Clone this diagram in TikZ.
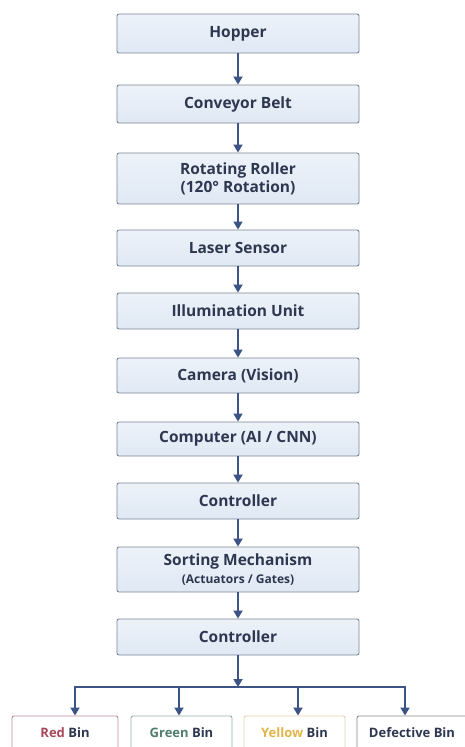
\documentclass[tikz,border=0pt]{standalone}
\usepackage{fontspec}
\setmainfont{Open Sans}
\usetikzlibrary{arrows.meta}
\definecolor{boxfill}{HTML}{DFE8F4}
\definecolor{boxdraw}{HTML}{7C8796}
\definecolor{txt}{HTML}{2D3850}
\definecolor{arr}{HTML}{3B5485}
\definecolor{redc}{HTML}{A8465A}
\definecolor{redb}{HTML}{B89098}
\definecolor{greenc}{HTML}{4F7D6E}
\definecolor{greenb}{HTML}{98B0A8}
\definecolor{yellc}{HTML}{E2B54A}
\definecolor{yellb}{HTML}{E2D2B0}
\definecolor{defb}{HTML}{8A8A8A}
\tikzset{
  stage/.style={draw=boxdraw, line width=0.9pt, rounded corners=2pt,
    top color=boxfill!55!white, bottom color=boxfill, minimum width=242pt,
    inner sep=0pt, align=center, text=txt, font=\bfseries\fontsize{15.5}{18}\selectfont},
  bin/.style={draw=#1, line width=0.9pt, rounded corners=2pt, fill=white,
    minimum width=106pt, minimum height=34pt, inner sep=0pt, text=txt,
    font=\bfseries\fontsize{13}{15}\selectfont},
  flow/.style={draw=arr, line width=1.8pt, -{Triangle[width=9pt,length=8pt]}},
  bus/.style={draw=arr, line width=1.8pt}
}
\begin{document}
\begin{tikzpicture}[x=1pt,y=-1pt]
\useasboundingbox[fill=white] (0,0) rectangle (465,747);
\node[stage, minimum height=39pt] (hop) at (238,33.5) {Hopper};
\node[stage, minimum height=38pt] (conv) at (238,104) {Conveyor Belt};
\node[stage, minimum height=51pt] (roll) at (238,178.5) {Rotating Roller\\(120° Rotation)};
\node[stage, minimum height=36pt] (las) at (238,248) {Laser Sensor};
\node[stage, minimum height=36pt] (ill) at (238,311) {Illumination Unit};
\node[stage, minimum height=35pt] (cam) at (238,375.5) {Camera (Vision)};
\node[stage, minimum height=34pt] (comp) at (238,439) {Computer (AI / CNN)};
\node[stage, minimum height=36pt] (ctl) at (238,501) {Controller};
\node[stage, minimum height=45pt] (sort) at (238,569.5) {Sorting Mechanism\\{\fontsize{12}{14}\selectfont(Actuators / Gates)}};
\node[stage, minimum height=36pt] (ctl2) at (238,637) {Controller};

\node[bin=redb] (red) at (65,733) {\textcolor{redc}{Red} Bin};
\node[bin=greenb, minimum width=101pt] (green) at (181.5,733) {\textcolor{greenc}{Green} Bin};
\node[bin=yellb, minimum width=101pt] (yell) at (294.5,733) {\textcolor{yellc}{Yellow} Bin};
\node[bin=defb, minimum width=110pt] (def) at (412,733) {Defective Bin};

\draw[flow] (hop) -- (conv);
\draw[flow] (conv) -- (roll);
\draw[flow] (roll) -- (las);
\draw[flow] (las) -- (ill);
\draw[flow] (ill) -- (cam);
\draw[flow] (cam) -- (comp);
\draw[flow] (comp) -- (ctl);
\draw[flow] (ctl) -- (sort);
\draw[flow] (sort) -- (ctl2);

\coordinate (j) at (238,687);
\coordinate (jl) at (75,687);
\coordinate (jg) at (179,687);
\coordinate (jy) at (298,687);
\coordinate (jd) at (405,687);
\draw[flow] (ctl2.south) -- (j);
\draw[bus] ([xshift=-0.9pt]jl) -- ([xshift=0.9pt]jd);
\draw[flow] (jl) -- (jl |- red.north);
\draw[flow] (jg) -- (jg |- green.north);
\draw[flow] (jy) -- (jy |- yell.north);
\draw[flow] (jd) -- (jd |- def.north);
\end{tikzpicture}
\end{document}
